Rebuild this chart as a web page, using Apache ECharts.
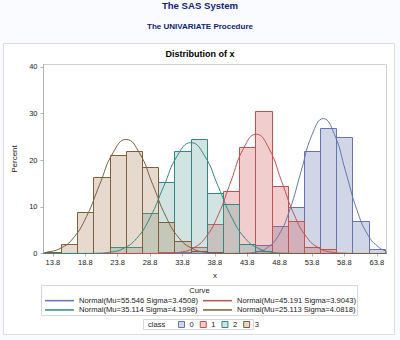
<!DOCTYPE html>
<html>
<head>
<meta charset="utf-8">
<script src="https://cdn.jsdelivr.net/npm/echarts@6/dist/echarts.min.js"></script>
<style>
html,body{margin:0;padding:0;background:#FAFBFE;}
#chart{width:400px;height:340px;}
</style>
</head>
<body>
<div id="chart"></div>
<script>
// ---------- data ----------
const pageTitle = 'The SAS System';
const procTitle = 'The UNIVARIATE Procedure';
const chartTitle = 'Distribution of x';
const xName = 'x';
const yName = 'Percent';
const binWidth = 2.5;
const binCenters = [13.8, 16.3, 18.8, 21.3, 23.8, 26.3, 28.8, 31.3, 33.8, 36.3, 38.8, 41.3, 43.8, 46.3, 48.8, 51.3, 53.8, 56.3, 58.8, 61.3, 63.8];
const xTicks = [13.8, 18.8, 23.8, 28.8, 33.8, 38.8, 43.8, 48.8, 53.8, 58.8, 63.8];
const yTicks = [0, 10, 20, 30, 40];
const classNames = ['0', '1', '2', '3'];
const pctClass0 = [0, 0, 0, 0, 0, 0, 0, 0, 0, 0, 0, 0, 0, 1.8, 5.9, 10.0, 22.0, 26.9, 24.9, 7.0, 0.9];
const pctClass1 = [0, 0, 0, 0, 0, 0, 0, 0.3, 0.3, 1.5, 6.4, 13.4, 22.9, 30.5, 14.5, 7.0, 1.5, 1.0, 0, 0, 0];
const pctClass2 = [0, 0, 0, 0, 1.3, 1.3, 8.6, 15.3, 22.0, 24.6, 12.9, 10.6, 2.1, 0.5, 0, 0, 0, 0, 0, 0, 0];
const pctClass3 = [0.3, 2.0, 9.0, 16.3, 21.1, 22.0, 18.6, 6.7, 2.6, 0.6, 0.3, 0, 0, 0, 0, 0, 0, 0, 0, 0, 0];
const curveTitle = 'Curve';
const classTitle = 'class';
const curveNames = [
  'Normal(Mu=55.546 Sigma=3.4508)',
  'Normal(Mu=45.191 Sigma=3.9043)',
  'Normal(Mu=35.114 Sigma=4.1998)',
  'Normal(Mu=25.113 Sigma=4.0818)'
];
// fitted curves, [x, percent]
const curve0 = [[12.4, 0], [41.74, 0.01], [43.47, 0.06], [45.19, 0.32], [46.92, 1.27], [48.64, 3.91], [50.37, 9.38], [52.10, 17.53], [53.82, 25.50], [55.55, 28.90], [57.27, 25.50], [59.00, 17.53], [60.72, 9.38], [62.45, 3.91], [64.17, 1.27], [65.3, 0.53]];
const curve1 = [[12.4, 0], [29.57, 0.01], [31.53, 0.06], [33.48, 0.28], [35.43, 1.12], [37.38, 3.46], [39.34, 8.30], [41.29, 15.50], [43.24, 22.55], [45.19, 25.55], [47.14, 22.55], [49.10, 15.50], [51.05, 8.30], [53.00, 3.46], [54.95, 1.12], [56.90, 0.28], [58.86, 0.06], [60.81, 0.01], [65.3, 0]];
const curve2 = [[12.4, 0], [18.32, 0.01], [20.42, 0.05], [22.52, 0.26], [24.62, 1.04], [26.71, 3.21], [28.81, 7.71], [30.91, 14.40], [33.01, 20.96], [35.11, 23.75], [37.21, 20.96], [39.31, 14.40], [41.41, 7.71], [43.51, 3.21], [45.61, 1.04], [47.71, 0.26], [49.81, 0.05], [51.91, 0.01], [65.3, 0]];
const curve3 = [[12.4, 0.19], [12.87, 0.27], [14.91, 1.07], [16.95, 3.31], [18.99, 7.93], [21.03, 14.82], [23.07, 21.56], [25.11, 24.43], [27.15, 21.56], [29.20, 14.82], [31.24, 7.93], [33.28, 3.31], [35.32, 1.07], [37.36, 0.27], [39.40, 0.05], [41.44, 0.01], [65.3, 0]];

// ---------- styling ----------
const pcts = [pctClass0, pctClass1, pctClass2, pctClass3];
const curves = [curve0, curve1, curve2, curve3];
const fills = ['rgba(111,126,179,0.32)', 'rgba(208,91,91,0.3)', 'rgba(102,165,160,0.3)', 'rgba(169,134,91,0.3)'];
const strokes = ['#6675AE', '#BF5252', '#2F8A83', '#7E5E3C'];
const curveColors = ['#6675AE', '#BF5252', '#2F8A83', '#7E5E3C'];
const FONT = '"Liberation Sans", Arial, sans-serif';

const chart = echarts.init(document.getElementById('chart'), null, {renderer: 'svg'});

const barSeries = pcts.map((arr, i) => ({
  type: 'custom',
  name: classNames[i],
  z: 2,
  silent: true,
  encode: {x: 0, y: 1},
  data: binCenters.map((c, j) => [c, arr[j]]).filter(d => d[1] > 0),
  renderItem: function (params, api) {
    const c = api.value(0), v = api.value(1);
    const a = api.coord([c - binWidth / 2, v]);
    const b = api.coord([c + binWidth / 2, 0]);
    const x0 = Math.round(a[0]) + 0.5, x1 = Math.round(b[0]) + 0.5;
    const y0 = Math.round(a[1]) + 0.5, y1 = Math.round(b[1]) - 0.5;
    return {
      type: 'rect',
      shape: {x: x0, y: y0, width: x1 - x0, height: y1 - y0},
      style: {fill: fills[i], stroke: strokes[i], lineWidth: 1}
    };
  }
}));

const lineSeries = curves.map((d, i) => ({
  type: 'line',
  name: curveNames[i],
  data: d,
  smooth: true,
  symbol: 'none',
  showSymbol: false,
  silent: true,
  z: 3,
  color: curveColors[i],
  lineStyle: {color: curveColors[i], width: 1},
  itemStyle: {color: curveColors[i]}
}));

const legendText = {fontSize: 7.6, color: '#222', fontFamily: FONT, lineHeight: 9.3};

const option = {
  animation: false,
  textStyle: {fontFamily: FONT},
  grid: {left: 43.5, right: 13.5, top: 64.5, bottom: 86.5, show: true, borderColor: '#CFCFCF', borderWidth: 1, backgroundColor: '#fff'},
  xAxis: {
    type: 'value', min: 12.35, max: 65.3,
    name: xName, nameLocation: 'middle', nameGap: 18,
    nameTextStyle: {fontSize: 8, color: '#222', fontFamily: FONT},
    axisLine: {show: true, onZero: false, lineStyle: {color: '#B0B0B0', width: 1}},
    axisTick: {show: true, length: 3, customValues: xTicks, lineStyle: {color: '#B0B0B0'}},
    axisLabel: {customValues: xTicks, formatter: v => v.toFixed(1), fontSize: 7.5, color: '#222', margin: 5, fontFamily: FONT},
    splitLine: {show: false}
  },
  yAxis: {
    type: 'value', min: 0, max: 40.5,
    name: yName, nameLocation: 'middle', nameGap: 24, nameRotate: 90,
    nameTextStyle: {fontSize: 8, color: '#222', fontFamily: FONT},
    axisLine: {show: true, lineStyle: {color: '#B0B0B0', width: 1}},
    axisTick: {show: true, length: 3, customValues: yTicks, lineStyle: {color: '#B0B0B0'}},
    axisLabel: {customValues: yTicks, fontSize: 7.5, color: '#222', margin: 6, fontFamily: FONT},
    splitLine: {show: false}
  },
  legend: [
    {orient: 'vertical', left: 45, top: 296, padding: 0, itemGap: 0, itemWidth: 29, itemHeight: 1.5, icon: 'rect',
     itemStyle: {borderWidth: 0}, selectedMode: false, data: [curveNames[0], curveNames[2]], textStyle: legendText},
    {orient: 'vertical', left: 203, top: 296, padding: 0, itemGap: 0, itemWidth: 29, itemHeight: 1.5, icon: 'rect',
     itemStyle: {borderWidth: 0}, selectedMode: false, data: [curveNames[1], curveNames[3]], textStyle: legendText},
    {orient: 'horizontal', left: 178, top: 320.5, padding: 0, itemGap: 6, itemWidth: 6, itemHeight: 6, selectedMode: false,
     data: classNames.map((n, i) => ({name: n, icon: 'rect', itemStyle: {color: fills[i], borderColor: strokes[i], borderWidth: 1}})),
     textStyle: {fontSize: 7.6, color: '#222', fontFamily: FONT, lineHeight: 8}}
  ],
  graphic: [
    {type: 'rect', z: -10, silent: true, shape: {x: 3.5, y: 43.5, width: 391, height: 291}, style: {fill: '#fff', stroke: '#DCDCDC', lineWidth: 1}},
    {type: 'text', silent: true, style: {text: pageTitle, x: 200, y: 5.5, textAlign: 'center', textVerticalAlign: 'middle', font: 'bold 9.6px ' + FONT, fill: '#112277'}},
    {type: 'text', silent: true, style: {text: procTitle, x: 200, y: 26, textAlign: 'center', textVerticalAlign: 'middle', font: 'bold 8px ' + FONT, fill: '#112277'}},
    {type: 'text', silent: true, style: {text: chartTitle, x: 200, y: 54, textAlign: 'center', textVerticalAlign: 'middle', font: 'bold 9px ' + FONT, fill: '#000'}},
    {type: 'rect', silent: true, shape: {x: 41.5, y: 285.5, width: 316, height: 30}, style: {fill: 'none', stroke: '#D6D6D6', lineWidth: 1}},
    {type: 'text', silent: true, style: {text: curveTitle, x: 199.5, y: 290.8, textAlign: 'center', textVerticalAlign: 'middle', font: '7.6px ' + FONT, fill: '#222'}},
    {type: 'rect', silent: true, shape: {x: 143.5, y: 319.5, width: 110, height: 10}, style: {fill: 'none', stroke: '#D6D6D6', lineWidth: 1}},
    {type: 'text', silent: true, style: {text: classTitle, x: 148, y: 324.6, textAlign: 'left', textVerticalAlign: 'middle', font: '7.6px ' + FONT, fill: '#222'}}
  ],
  series: barSeries.concat(lineSeries)
};
chart.setOption(option);
</script>
</body>
</html>
